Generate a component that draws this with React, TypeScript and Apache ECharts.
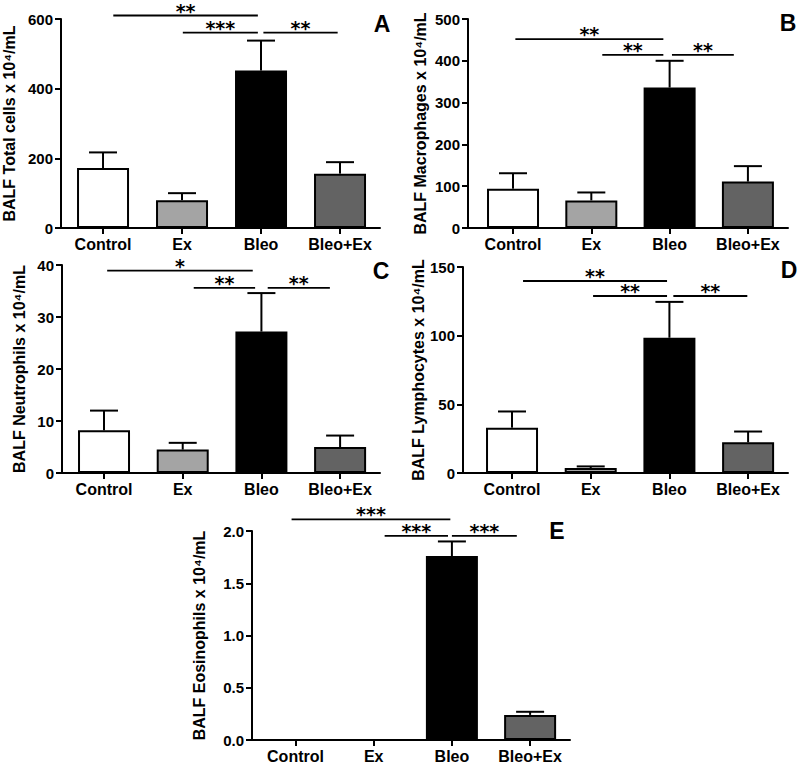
import React, { useEffect, useRef } from "react";
import * as echarts from "echarts";

const categories = ["Control", "Ex", "Bleo", "Bleo+Ex"];
const barColors = ["#ffffff", "#a4a4a4", "#000000", "#636363"];

// Panel A: total cells
const totalMean = [172, 80, 452, 156];
const totalUpper = [217, 100, 538, 189];
const totalTicks = [0, 200, 400, 600];
const totalSig: [number, number, number, string][] = [
  [0.13, 1.96, 610, "**"],
  [1.01, 1.96, 561, "***"],
  [2.03, 2.97, 561, "**"],
];

// Panel B: macrophages
const macroMean = [94, 66, 336, 111];
const macroUpper = [131, 85, 400, 148];
const macroTicks = [0, 100, 200, 300, 400, 500];
const macroSig: [number, number, number, string][] = [
  [0.03, 1.92, 452, "**"],
  [1.14, 1.92, 414, "**"],
  [2.03, 2.82, 414, "**"],
];

// Panel C: neutrophils
const neutroMean = [8.2, 4.5, 27.2, 5.0];
const neutroUpper = [12.0, 5.8, 34.6, 7.2];
const neutroTicks = [0, 10, 20, 30, 40];
const neutroSig: [number, number, number, string][] = [
  [0.04, 1.89, 38.9, "*"],
  [1.14, 1.92, 35.6, "**"],
  [2.08, 2.87, 35.6, "**"],
];

// Panel D: lymphocytes
const lymphoMean = [33, 3.6, 98.5, 22.3];
const lymphoUpper = [44.8, 4.8, 124.6, 30.2];
const lymphoTicks = [0, 50, 100, 150];
const lymphoSig: [number, number, number, string][] = [
  [0.14, 1.97, 139.8, "**"],
  [1.03, 1.97, 128.9, "**"],
  [2.05, 2.99, 128.9, "**"],
];

// Panel E: eosinophils
const eosMean = [0, 0, 1.76, 0.24];
const eosUpper: (number | null)[] = [null, null, 1.9, 0.27];
const eosTicks = [0, 0.5, 1.0, 1.5, 2.0];
const eosSig: [number, number, number, string][] = [
  [-0.05, 1.98, 2.112, "***"],
  [1.14, 1.95, 1.954, "***"],
  [2.0, 2.83, 1.954, "***"],
];

const FONT = "'Liberation Sans', Arial, sans-serif";

type Panel = {
  letter: string;
  title: string;
  mean: number[];
  upper: (number | null)[];
  ticks: number[];
  sig: [number, number, number, string][];
  decimals: number;
  layout: { left: number; top: number; width: number; height: number; xMin: number; xMax: number; nameGap: number; lx: number; ly: number };
};

const panels: Panel[] = [
  {
    letter: "A", title: "BALF Total cells x 10⁴/mL", mean: totalMean, upper: totalUpper, ticks: totalTicks, sig: totalSig, decimals: 0,
    layout: { left: 61, top: 19, width: 319, height: 209, xMin: -0.532, xMax: 3.506, nameGap: 44, lx: 382, ly: 24 },
  },
  {
    letter: "B", title: "BALF Macrophages x 10⁴/mL", mean: macroMean, upper: macroUpper, ticks: macroTicks, sig: macroSig, decimals: 0,
    layout: { left: 468, top: 19, width: 320, height: 209, xMin: -0.575, xMax: 3.512, nameGap: 40, lx: 788, ly: 23 },
  },
  {
    letter: "C", title: "BALF Neutrophils x 10⁴/mL", mean: neutroMean, upper: neutroUpper, ticks: neutroTicks, sig: neutroSig, decimals: 0,
    layout: { left: 62, top: 265, width: 318, height: 208, xMin: -0.534, xMax: 3.507, nameGap: 35, lx: 381, ly: 271 },
  },
  {
    letter: "D", title: "BALF Lymphocytes x 10⁴/mL", mean: lymphoMean, upper: lymphoUpper, ticks: lymphoTicks, sig: lymphoSig, decimals: 0,
    layout: { left: 463, top: 267, width: 325, height: 206, xMin: -0.623, xMax: 3.507, nameGap: 35, lx: 789, ly: 270 },
  },
  {
    letter: "E", title: "BALF Eosinophils x 10⁴/mL", mean: eosMean, upper: eosUpper, ticks: eosTicks, sig: eosSig, decimals: 1,
    layout: { left: 252, top: 531, width: 318, height: 209, xMin: -0.556, xMax: 3.51, nameGap: 45, lx: 557, ly: 531 },
  },
];

function buildOption() {
  const grid: any[] = [];
  const xAxis: any[] = [];
  const yAxis: any[] = [];
  const series: any[] = [];
  const graphic: any[] = [];
  const axisLineStyle = { color: "#000", width: 2 };

  panels.forEach((p, i) => {
    const L = p.layout;
    grid.push({ left: L.left, top: L.top, width: L.width, height: L.height, containLabel: false });
    xAxis.push({
      type: "value",
      gridIndex: i,
      min: L.xMin,
      max: L.xMax,
      axisLine: { show: true, onZero: false, lineStyle: axisLineStyle },
      axisTick: { show: true, customValues: [0, 1, 2, 3], length: 6, lineStyle: axisLineStyle },
      axisLabel: {
        customValues: [0, 1, 2, 3],
        formatter: (v: number) => categories[Math.round(v)] ?? "",
        color: "#000",
        fontWeight: "bold",
        fontSize: 16,
        fontFamily: FONT,
        margin: 8,
      },
      splitLine: { show: false },
    });
    const tmin = p.ticks[0];
    const tmax = p.ticks[p.ticks.length - 1];
    yAxis.push({
      type: "value",
      gridIndex: i,
      min: tmin,
      max: tmax,
      interval: p.ticks[1] - p.ticks[0],
      axisLine: { show: true, onZero: false, lineStyle: axisLineStyle },
      axisTick: { show: true, length: 6, lineStyle: axisLineStyle },
      axisLabel: {
        color: "#000",
        fontWeight: "bold",
        fontSize: 15,
        fontFamily: FONT,
        margin: 8,
        formatter: (v: number) => v.toFixed(p.decimals),
      },
      splitLine: { show: false },
      name: p.title,
      nameLocation: "middle",
      nameGap: L.nameGap,
      nameTextStyle: { color: "#000", fontWeight: "bold", fontSize: 16, fontFamily: FONT },
    });
    series.push({
      type: "bar",
      xAxisIndex: i,
      yAxisIndex: i,
      barWidth: 52,
      itemStyle: { borderColor: "#000", borderWidth: 2 },
      data: p.mean.map((v, k) => ({ value: [k, v], itemStyle: { color: barColors[k] } })),
      z: 2,
    });
    const errData = p.upper
      .map((u, k) => (u == null ? null : [k, p.mean[k], u]))
      .filter((d) => d != null);
    series.push({
      type: "custom",
      xAxisIndex: i,
      yAxisIndex: i,
      z: 3,
      clip: false,
      encode: { x: 0, y: [1, 2] },
      data: errData,
      renderItem: (_params: any, api: any) => {
        const x = api.value(0);
        const p0 = api.coord([x, api.value(1)]);
        const p1 = api.coord([x, api.value(2)]);
        return {
          type: "group",
          children: [
            { type: "line", shape: { x1: p0[0], y1: p0[1], x2: p1[0], y2: p1[1] }, style: { stroke: "#000", lineWidth: 2 } },
            { type: "line", shape: { x1: p1[0] - 14, y1: p1[1], x2: p1[0] + 14, y2: p1[1] }, style: { stroke: "#000", lineWidth: 2 } },
          ],
        };
      },
    });
    series.push({
      type: "custom",
      xAxisIndex: i,
      yAxisIndex: i,
      z: 4,
      clip: false,
      encode: { x: [0, 1], y: 2 },
      data: p.sig.map((s) => [s[0], s[1], s[2]]),
      renderItem: (params: any, api: any) => {
        const s = p.sig[params.dataIndex];
        const a = api.coord([s[0], s[2]]);
        const b = api.coord([s[1], s[2]]);
        return {
          type: "group",
          children: [
            { type: "line", shape: { x1: a[0], y1: a[1], x2: b[0], y2: b[1] }, style: { stroke: "#000", lineWidth: 1.8 } },
            {
              type: "text",
              x: (a[0] + b[0]) / 2,
              y: a[1] - 5,
              style: {
                text: s[3],
                fill: "#000",
                fontSize: 19,
                fontWeight: "bold",
                fontFamily: "'DejaVu Sans', sans-serif",
                align: "center",
                verticalAlign: "middle",
              },
            },
          ],
        };
      },
    });
    graphic.push({
      type: "text",
      x: L.lx,
      y: L.ly,
      style: {
        text: p.letter,
        fill: "#000",
        fontSize: 23,
        fontWeight: "bold",
        fontFamily: FONT,
        align: "center",
        verticalAlign: "middle",
      },
    });
  });

  return { animation: false, backgroundColor: "#ffffff", grid, xAxis, yAxis, series, graphic };
}

export default function App() {
  const ref = useRef<HTMLDivElement>(null);
  useEffect(() => {
    if (!ref.current) return;
    const chart = echarts.init(ref.current, null, { renderer: "svg" });
    chart.setOption(buildOption() as any);
    return () => chart.dispose();
  }, []);
  return <div ref={ref} style={{ position: "fixed", left: 0, top: 0, width: 800, height: 765 }} />;
}
